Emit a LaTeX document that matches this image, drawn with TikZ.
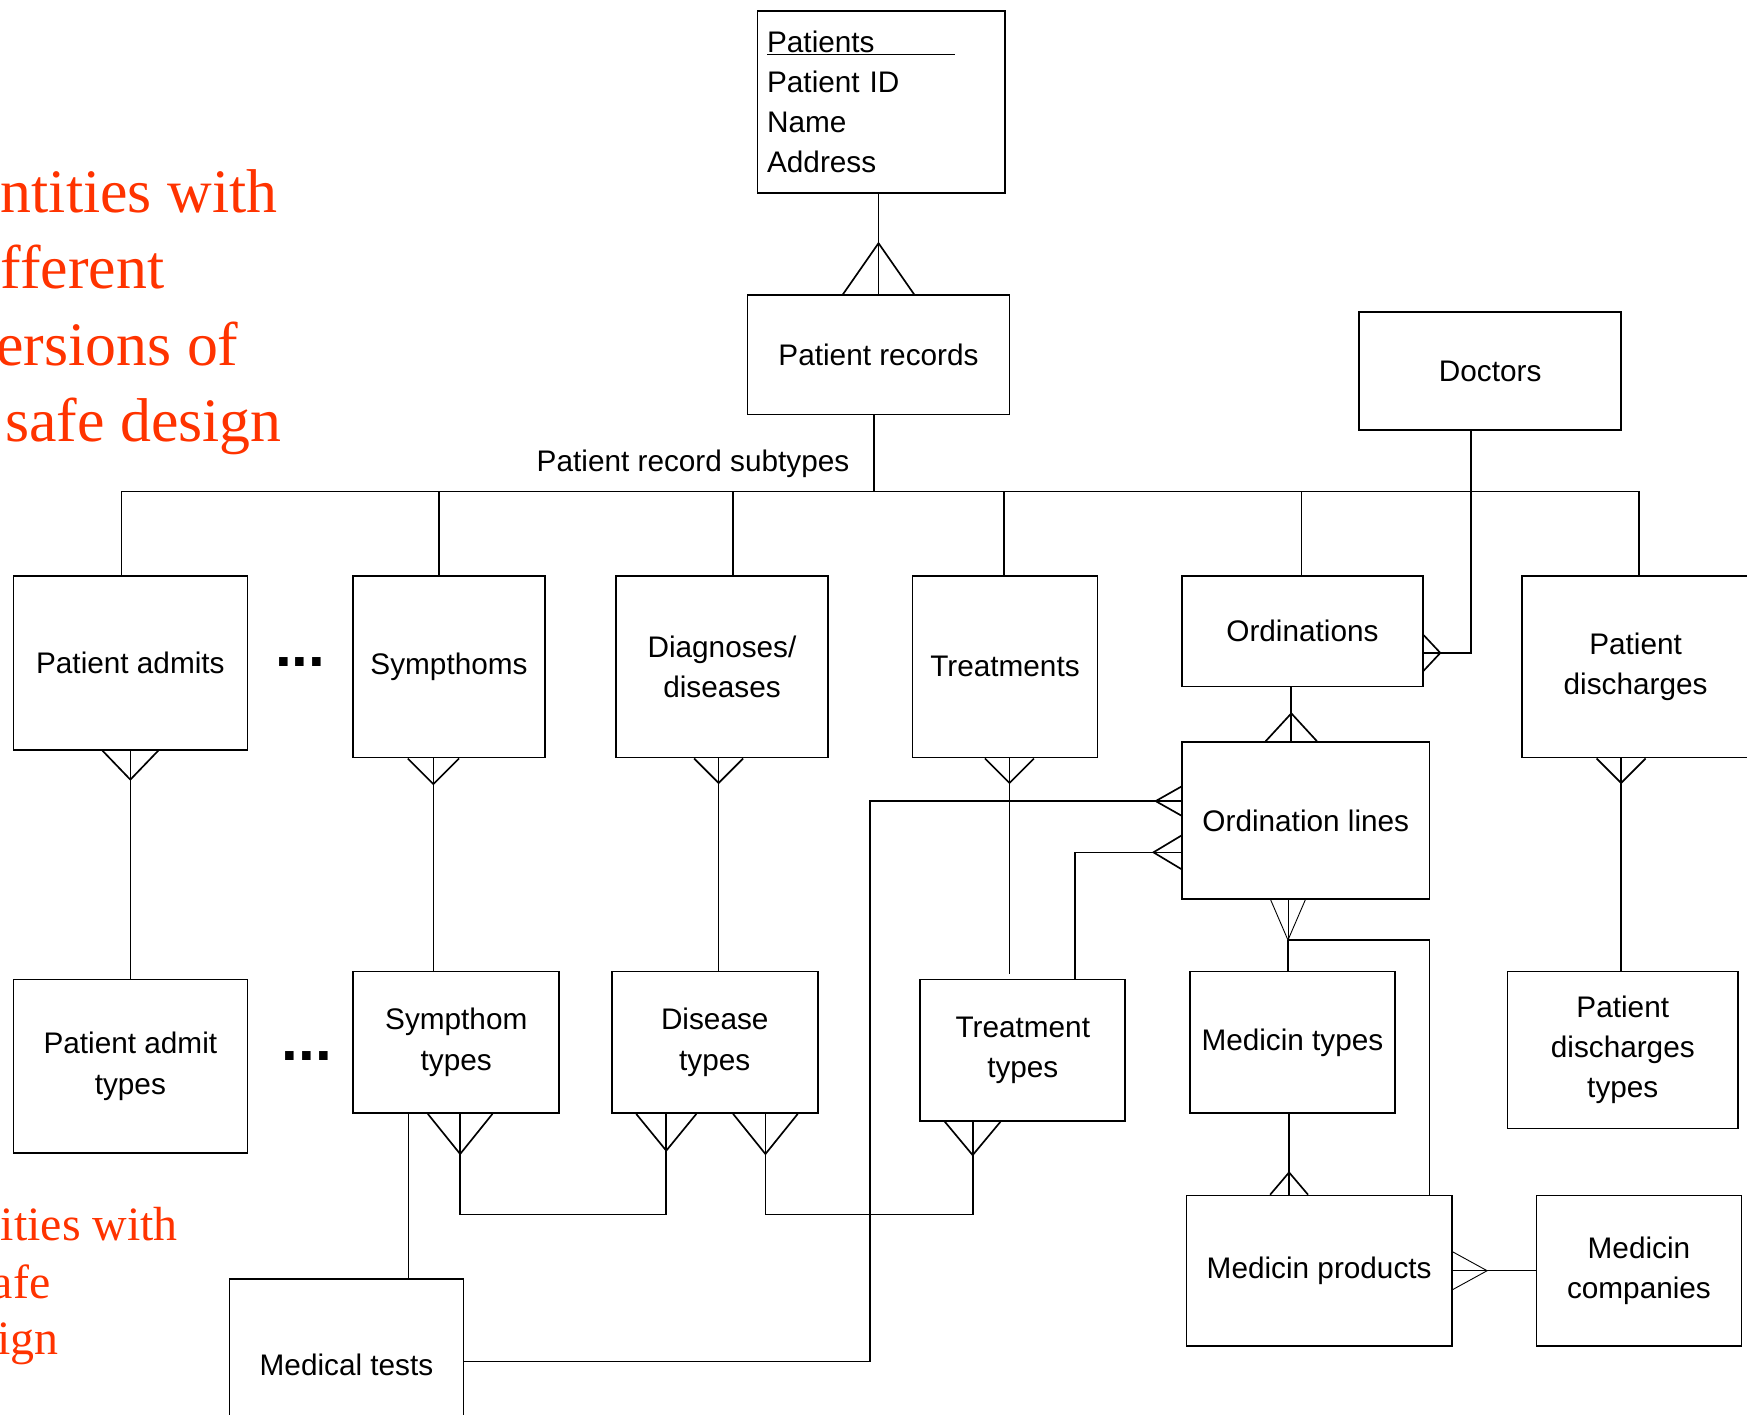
\documentclass[tikz,border=0pt]{standalone}
\usepackage{fontspec}
\setmainfont{Liberation Sans}
\newfontfamily\redserif{Liberation Serif}
\definecolor{slidered}{RGB}{255,51,0}
\begin{document}
\begin{tikzpicture}[x=1pt,y=-1pt,line width=1.5pt,
  ent/.style={draw,rectangle,inner sep=0pt,align=center,font=\fontsize{26.7}{36}\selectfont},
  thinline/.style={line width=0.8pt},
  redbig/.style={anchor=base west,inner sep=0pt,text=slidered,font=\redserif\fontsize{55.5}{68}\selectfont},
  redsmall/.style={anchor=base west,inner sep=0pt,text=slidered,font=\redserif\fontsize{43}{52}\selectfont},
  dotsnode/.style={inner sep=0pt,font=\bfseries\fontsize{54}{54}\selectfont},
  lbl/.style={inner sep=0pt,font=\fontsize{26.7}{36}\selectfont},
  pics/crow/.style 2 args={code={\draw (-#1,0) -- (0,#2) -- (#1,0);}}
]
\clip (0,0) rectangle (1568,1270);

% red slide text
\node[redbig] (r1) at (0,191) {ntities with};
\node[redbig] (r2) at (0,259) {fferent};
\node[redbig] (r3) at (-4,328) {ersions of};
\node[redbig] (r4) at (4,396) {safe design};
\node[redsmall] (r5) at (0,1113) {ities with};
\node[redsmall] (r6) at (-8,1165) {afe};
\node[redsmall] (r7) at (-3,1216) {ign};

% entities
\node[ent,minimum width=222pt,minimum height=163pt,text width=205pt,align=left] (patients) at (791,91.5)
  {\underline{Patients\hspace{72pt}}\\Patient ID\\Name\\Address};
\node[ent,minimum width=235pt,minimum height=107pt] (precords) at (788.5,318.5) {Patient records};
\node[ent,minimum width=235pt,minimum height=106pt] (doctors) at (1337.5,333) {Doctors};
\node[ent,minimum width=210pt,minimum height=156pt] (padmits) at (117,595) {Patient admits};
\node[ent,minimum width=172pt,minimum height=163pt] (sympt) at (403,598.5) {Sympthoms};
\node[ent,minimum width=190pt,minimum height=163pt] (diag) at (648,598.5) {Diagnoses/\\diseases};
\node[ent,minimum width=166pt,minimum height=163pt] (treat) at (902,598.5) {Treatments};
\node[ent,minimum width=216pt,minimum height=99pt] (ordin) at (1169,566.5) {Ordinations};
\node[ent,minimum width=204pt,minimum height=163pt] (pdis) at (1468,598.5) {Patient\\discharges};
\node[ent,minimum width=222pt,minimum height=141pt] (oline) at (1172,736.5) {Ordination lines};
\node[ent,minimum width=210pt,minimum height=156pt] (patypes) at (117,957) {Patient admit\\types};
\node[ent,minimum width=185pt,minimum height=127pt] (stypes) at (409.5,935.5) {Sympthom\\types};
\node[ent,minimum width=185pt,minimum height=127pt] (dtypes) at (641.5,935.5) {Disease\\types};
\node[ent,minimum width=184pt,minimum height=127pt] (ttypes) at (918,942.5) {Treatment\\types};
\node[ent,minimum width=184pt,minimum height=127pt] (mtypes) at (1160,935.5) {Medicin types};
\node[ent,minimum width=207pt,minimum height=141pt] (pdtypes) at (1456.5,942.5) {Patient\\discharges\\types};
\node[ent,minimum width=210pt,minimum height=154pt] (mtests) at (311,1225) {Medical tests};
\node[ent,minimum width=238pt,minimum height=135pt] (mprod) at (1184,1140.5) {Medicin products};
\node[ent,minimum width=184pt,minimum height=135pt] (mcomp) at (1471,1140.5) {Medicin\\companies};

\node[lbl] (subtypes) at (622,416) {Patient record subtypes};
\node[dotsnode] (dotsA) at (269.5,594.5) {...};
\node[dotsnode] (dotsB) at (275.5,948) {...};

% Patients -> Patient records
\draw (precords.north) -- (precords.north |- patients.south);
\pic[rotate=180] at (precords.north) {crow={32}{46}};

% subtype bus
\coordinate (bus) at (0,441);
\coordinate (pr1) at ([xshift=-4pt]precords.south);
\coordinate (pa1) at ([xshift=-8pt]padmits.north);
\coordinate (sy1) at ([xshift=-9pt]sympt.north);
\coordinate (di1) at ([xshift=10pt]diag.north);
\coordinate (tr1) at ([xshift=-1pt]treat.north);
\coordinate (or1) at ([xshift=-1pt]ordin.north);
\coordinate (pd1) at ([xshift=3pt]pdis.north);
\draw (pa1 |- bus) -- (pd1 |- bus);
\foreach \c in {pr1,pa1,sy1,di1,tr1,or1,pd1} \draw (\c) -- (\c |- bus);

% Doctors -> Ordinations
\coordinate (dc1) at ([xshift=-17.5pt]doctors.south);
\coordinate (or2) at ([yshift=-19.5pt]ordin.east);
\draw (dc1) |- (or2);
\pic[rotate=90] at (or2) {crow={16}{15}};

% subtypes -> type tables
\draw (padmits.south) -- (padmits.south |- patypes.north);
\pic at (padmits.south) {crow={25}{26}};
\coordinate (sy2) at ([xshift=-14pt]sympt.south);
\draw (sy2) -- (sy2 |- stypes.north);
\pic at (sy2) {crow={23}{23}};
\coordinate (di2) at ([xshift=-3pt]diag.south);
\draw (di2) -- (di2 |- dtypes.north);
\pic at (di2) {crow={22}{22}};
\coordinate (tr2) at ([xshift=4pt]treat.south);
\draw (tr2) -- ([yshift=4pt]tr2 |- ttypes.north);
\pic at (tr2) {crow={22}{22}};
\coordinate (pd2) at ([xshift=-13pt]pdis.south);
\draw (pd2) -- (pd2 |- pdtypes.north);
\pic at (pd2) {crow={22}{22}};

% Ordinations -> Ordination lines
\coordinate (or3) at ([xshift=-10pt]ordin.south);
\draw (or3) -- (or3 |- oline.north);
\pic[rotate=180] at (or3 |- oline.north) {crow={23}{25}};

% Ordination lines -> Medicin types / products
\coordinate (ol1) at ([xshift=-16pt]oline.south);
\coordinate (olA) at ([yshift=-36pt]ol1);
\draw[thinline] (ol1) -- (olA);
\pic[thinline] at (ol1) {crow={15.5}{36}};
\draw (olA) -- (olA |- mtypes.north);
\coordinate (mp2) at ([xshift=99pt]mprod.north);
\draw (olA) -| (mp2);

% Medicin types -> Medicin products
\coordinate (mt1) at ([xshift=-3pt]mtypes.south);
\draw (mt1) -- (mt1 |- mprod.north);
\pic[rotate=180] at (mt1 |- mprod.north) {crow={17}{20}};

% Medicin products -> companies
\draw[thinline] (mprod.east) -- (mcomp.west);
\pic[thinline,rotate=90] at (mprod.east) {crow={17}{31}};

% type tables lower links
\coordinate (lowbus) at (0,1090);
\coordinate (st1) at ([xshift=3.5pt]stypes.south);
\coordinate (dt1) at ([xshift=-43.5pt]dtypes.south);
\coordinate (dt2) at ([xshift=45.5pt]dtypes.south);
\coordinate (tt1) at ([xshift=-45pt]ttypes.south);
\draw (st1) -- (st1 |- lowbus) -- (dt1 |- lowbus) -- (dt1);
\draw (dt2) -- (dt2 |- lowbus) -- (tt1 |- lowbus) -- (tt1);
\pic at (st1) {crow={29}{36}};
\pic at (dt1) {crow={27}{33}};
\pic at (dt2) {crow={29}{36}};
\pic at (tt1) {crow={25}{30}};

% Medical tests
\coordinate (st2) at ([xshift=-42.5pt]stypes.south);
\draw[thinline] (st2) -- (st2 |- mtests.north);
\coordinate (mt0) at ([yshift=3pt]mtests.east);
\coordinate (ol2) at ([yshift=17.5pt]oline.west);
\coordinate (medX) at (781,0);
\draw (mt0) -| (medX |- ol2) -- (ol2);
\pic[rotate=-90] at (ol2) {crow={13}{23}};

% Treatment types -> Ordination lines
\coordinate (tt2) at ([xshift=47pt]ttypes.north);
\coordinate (ol3) at ([yshift=-28.5pt]oline.west);
\draw (tt2) |- (ol3);
\pic[rotate=-90] at (ol3) {crow={15}{25}};
\end{tikzpicture}
\end{document}
